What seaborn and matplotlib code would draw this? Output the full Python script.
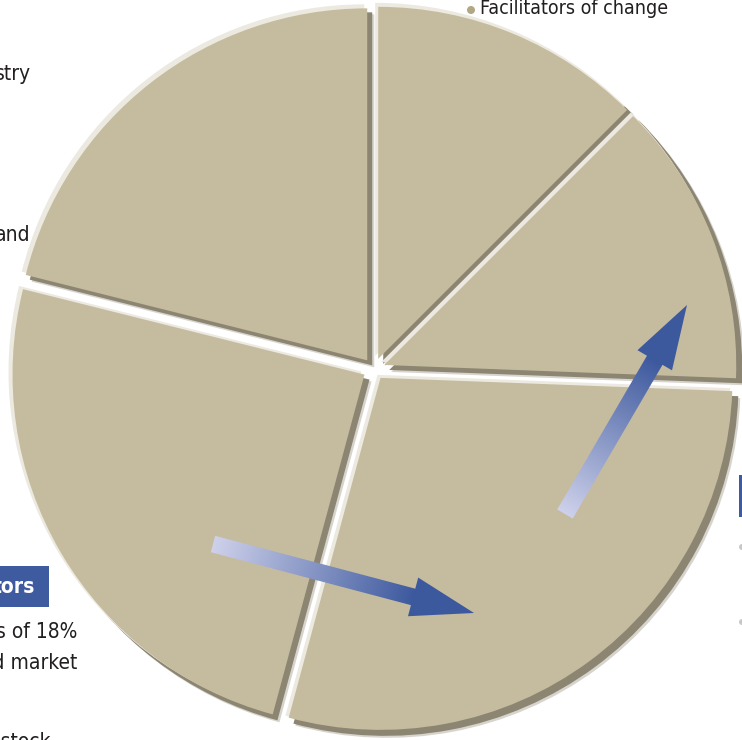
import numpy as np
import seaborn as sns
import matplotlib.pyplot as plt
from matplotlib.patches import Polygon, Rectangle, Circle

# slice shares, order counter-clockwise from 12 o'clock
segments = ["Segment A", "Segment B", "Segment C", "Segment D", "Facilitators of change"]
shares = [21.1, 24.7, 28.6, 13.1, 12.5]

# text fragments visible at the cropped edges
left_labels = ["stry", "and"]
box_label = "tors"
body_lines = ["s of 18%", "ed market", "f stock"]
top_label = "Facilitators of change"

sns.set_theme(style="white")
plt.rcParams["font.family"] = ["DejaVu Sans"]
plt.rcParams["font.stretch"] = "condensed"

W, H = 742, 740
fig = plt.figure(figsize=(W / 100, H / 100), dpi=100)
ax = fig.add_axes([0, 0, 1, 1])

cx, cy, R = 374, 371, 353
beige = "#C5BC9F"
shadow = "#8C8572"
light = "#ECE9E0"
blue = "#3F5B9F"

explode = [11] * len(shares)  # offset in pixels


def pie_layer(dx, dy, color, r, **kw):
    ax.pie(shares, startangle=90, counterclock=True, center=(cx + dx, cy + dy),
           radius=r, colors=[color] * len(shares), explode=explode,
           wedgeprops=dict(linewidth=0, **kw))


# soft shadow, hard shadow, highlight, face -> bevelled look
pie_layer(7, -7, shadow, R, alpha=0.35)
pie_layer(5, -5, shadow, R)
pie_layer(-3, 3, light, R)
pie_layer(0, 0, beige, R - 1)


def grad_arrow(tail, tip, shaft_w, head_w, head_len):
    # tail/tip given in image pixels (y down)
    p0 = np.array([tail[0], H - tail[1]], float)
    p1 = np.array([tip[0], H - tip[1]], float)
    d = p1 - p0
    L = np.hypot(*d)
    u = d / L
    n = np.array([-u[1], u[0]])
    b = p1 - u * head_len
    pts = [p0 + n * shaft_w / 2, b + n * shaft_w / 2, b + n * head_w / 2, p1,
           b - n * head_w / 2, b - n * shaft_w / 2, p0 - n * shaft_w / 2]
    pts = np.array(pts)
    x0, y0 = pts.min(axis=0) - 2
    x1, y1 = pts.max(axis=0) + 2
    xs = np.linspace(x0, x1, 250)
    ys = np.linspace(y0, y1, 250)
    XX, YY = np.meshgrid(xs, ys)
    t = ((XX - p0[0]) * u[0] + (YY - p0[1]) * u[1]) / (L - head_len)
    t = np.clip(t, 0, 1)
    c0 = np.array([0.81, 0.82, 0.92])
    c1 = np.array([0.24, 0.35, 0.62])
    img = c0 + (c1 - c0) * t[..., None]
    im = ax.imshow(img, extent=(x0, x1, y0, y1), origin="lower", zorder=5,
                   interpolation="bilinear")
    poly = Polygon(pts, closed=True, facecolor="none", edgecolor="none")
    ax.add_patch(poly)
    im.set_clip_path(poly)


grad_arrow((213, 544), (474, 613), 17, 40, 63)
grad_arrow((565, 514), (687, 305), 18, 40, 64)

txt = "#231F20"
fs = 15
ax.text(31, H - 74, left_labels[0], ha="right", va="center", fontsize=fs, color=txt)
ax.text(30, H - 235, left_labels[1], ha="right", va="center", fontsize=fs, color=txt)
ax.add_patch(Rectangle((0, H - 607), 49, 41, facecolor=blue, edgecolor="none"))
ax.text(35, H - 587, box_label, ha="right", va="center", fontsize=fs,
        color="white", fontweight="bold")
for line, yy, xr in zip(body_lines, [632, 663, 742], [77, 77, 50]):
    ax.text(xr, H - yy, line, ha="right", va="center", fontsize=fs, color=txt)
ax.add_patch(Circle((471, H - 10), 4, facecolor="#B2A783", edgecolor="none"))
ax.text(480, H - 9, top_label, ha="left", va="center", fontsize=14, color=txt)

# right edge marks
ax.add_patch(Rectangle((739, H - 517), 6, 42, facecolor=blue, edgecolor="none"))
ax.add_patch(Circle((742, H - 547), 3, facecolor="#C8C8C8", edgecolor="none"))
ax.add_patch(Circle((742, H - 622), 3, facecolor="#C8C8C8", edgecolor="none"))

ax.set_xlim(0, W)
ax.set_ylim(0, H)
ax.set_aspect("auto")
ax.axis("off")
fig.savefig("out.png", dpi=100, facecolor="white")
